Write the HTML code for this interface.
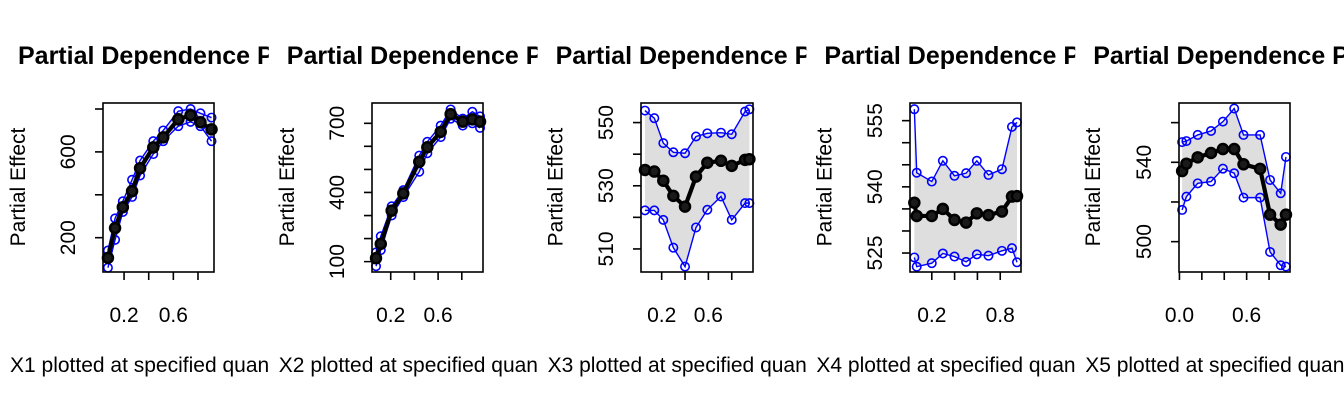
<!DOCTYPE html>
<html><head><meta charset="utf-8">
<style>
html,body{margin:0;padding:0;background:#fff;}
svg{display:block;}
text{font-family:"Liberation Sans",Arial,sans-serif;fill:#000;}
</style></head>
<body>
<svg id="chart" width="1344" height="403" viewBox="0 0 1344 403" xmlns="http://www.w3.org/2000/svg"></svg>
<script>
// ---- data ----
const panelNames = ["X1","X2","X3","X4","X5"];
const x1 = [0.069,0.127,0.19,0.265,0.33,0.437,0.518,0.64,0.74,0.82,0.91];
const fit1 = [106,245,342,417,524,621,668,752,771,738,705];
const up1 = [140,290,370,470,560,650,700,790,800,780,760];
const lo1 = [60,190,320,390,490,590,650,720,740,720,650];
const x2 = [0.076,0.116,0.208,0.306,0.441,0.509,0.622,0.706,0.808,0.889,0.954];
const fit2 = [115,177,321,396,533,596,663,740,707,717,707];
const up2 = [140,210,340,410,560,620,690,760,720,750,730];
const lo2 = [80,150,300,380,490,570,640,720,690,700,680];
const x3 = [0.057,0.137,0.214,0.3,0.4,0.494,0.591,0.708,0.8,0.914,0.951];
const fit3 = [535.0,534.5,531.6,526.8,523.4,532.9,537.3,537.9,536.3,538.2,538.4];
const up3 = [553.8,551.4,543.5,540.6,540.3,545.6,546.6,546.8,546.3,553.5,554.2];
const lo3 = [522.2,522.2,519.2,510.4,504.4,516.8,522.4,526.6,519.2,524.5,524.5];
const x4 = [0.047,0.068,0.2,0.297,0.399,0.501,0.595,0.697,0.815,0.903,0.947];
const fit4 = [536.4,533.4,533.4,535.0,532.5,531.9,534.0,533.6,534.4,537.8,537.9];
const up4 = [557.6,543.2,541.2,545.9,542.5,543.1,545.9,542.7,544.0,553.6,554.6];
const lo4 = [524.0,521.9,522.7,524.9,524.2,523.0,524.7,524.4,525.5,526.1,522.9];
const x5 = [0.024,0.062,0.163,0.282,0.388,0.489,0.572,0.72,0.809,0.904,0.951];
const fit5 = [535.6,539.3,542.5,544.7,546.7,546.7,539.0,536.7,513.6,508.6,513.6];
const up5 = [550.2,550.7,553.8,555.8,560.5,567.1,553.8,553.8,531.1,524.4,542.7];
const lo5 = [516.0,522.7,529.4,530.3,536.8,534.5,522.2,522.2,494.8,488.1,487.4];
const yTicks1 = [200,400,600,800], yLabels1 = ["200","","600",""];
const yTicks2 = [100,200,300,400,500,600,700], yLabels2 = ["100","","","400","","","700"];
const yTicks3 = [510,520,530,540,550], yLabels3 = ["510","","530","","550"];
const yTicks4 = [525,530,535,540,545,550,555], yLabels4 = ["525","","","540","","","555"];
const yTicks5 = [500,520,540,560], yLabels5 = ["500","","540",""];
const xTicks1 = [0.2,0.4,0.6,0.8], xLabels1 = ["0.2","","0.6",""];
const xTicks2 = [0.2,0.4,0.6,0.8], xLabels2 = ["0.2","","0.6",""];
const xTicks3 = [0.2,0.4,0.6,0.8], xLabels3 = ["0.2","","0.6",""];
const xTicks4 = [0.2,0.4,0.6,0.8], xLabels4 = ["0.2","","","0.8"];
const xTicks5 = [0.0,0.2,0.4,0.6,0.8], xLabels5 = ["0.0","","","0.6",""];

// ---- layout ----
const layout = [
  {left:103,right:214,xd:[0.029,0.93],yd:[40,828]},
  {left:372,right:483,xd:[0.042,0.979],yd:[55,788]},
  {left:641,right:753,xd:[0.023,0.982],yd:[502.7,556.2]},
  {left:910,right:1021,xd:[0.009,0.982],yd:[520.7,559]},
  {left:1179,right:1290,xd:[-0.004,0.987],yd:[484.7,569.9]}
];
const series = [[x1,fit1,up1,lo1],[x2,fit2,up2,lo2],[x3,fit3,up3,lo3],[x4,fit4,up4,lo4],[x5,fit5,up5,lo5]];
const yT = [[yTicks1,yLabels1],[yTicks2,yLabels2],[yTicks3,yLabels3],[yTicks4,yLabels4],[yTicks5,yLabels5]];
const xT = [[xTicks1,xLabels1],[xTicks2,xLabels2],[xTicks3,xLabels3],[xTicks4,xLabels4],[xTicks5,xLabels5]];
const TOP = 103, BOT = 272, PW = 268.8;
const NS = "http://www.w3.org/2000/svg";
const svg = document.getElementById('chart');
function mk(tag, attrs, parent){
  const e = document.createElementNS(NS, tag);
  for (const k in attrs) e.setAttribute(k, attrs[k]);
  parent.appendChild(e);
  return e;
}
const defs = mk('defs', {}, svg);
for (let i = 0; i < 5; i++) {
  const cp = mk('clipPath', {id:'clip'+i}, defs);
  mk('rect', {x:i*PW, y:0, width:PW, height:403}, cp);
  const L = layout[i];
  const sx = v => L.left + (v - L.xd[0]) / (L.xd[1] - L.xd[0]) * (L.right - L.left);
  const sy = v => BOT - (v - L.yd[0]) / (L.yd[1] - L.yd[0]) * (BOT - TOP);
  const g = mk('g', {'clip-path':'url(#clip'+i+')'}, svg);
  
  
  const [xs, fit, up, lo] = series[i];
  let pts = xs.map((x,j)=>sx(x)+','+sy(up[j]));
  for (let j = xs.length-1; j >= 0; j--) pts.push(sx(xs[j])+','+sy(lo[j]));
  const band = mk('polygon', {points:pts.join(' '), fill:'#dedede', stroke:'none'}, g);
  
  
  [[up,'upper-bound'],[lo,'lower-bound']].forEach(([arr,nm])=>{
    const pl = mk('polyline', {points:xs.map((x,j)=>sx(x)+','+sy(arr[j])).join(' '), fill:'none', stroke:'#0000ff', 'stroke-width':1.4}, g);
    
    
    xs.forEach((x,j)=>{
      const c = mk('circle', {cx:sx(x), cy:sy(arr[j]), r:4.2, fill:'none', stroke:'#0000ff', 'stroke-width':1.6}, g);
      
      
    });
  });
  const fl = mk('polyline', {points:xs.map((x,j)=>sx(x)+','+sy(fit[j])).join(' '), fill:'none', stroke:'#000', 'stroke-width':4.2}, g);
  
  
  xs.forEach((x,j)=>{
    const c = mk('circle', {cx:sx(x), cy:sy(fit[j]), r:5, fill:'#1a1a1a', stroke:'#000', 'stroke-width':2.5}, g);
    
    
  });
  const box = mk('rect', {x:L.left, y:TOP, width:L.right-L.left, height:BOT-TOP, fill:'none', stroke:'#000', 'stroke-width':1.6}, g);
  
  
  yT[i][0].forEach((v,j)=>{
    const y = sy(v);
    const t = mk('line', {x1:L.left-8, x2:L.left, y1:y, y2:y, stroke:'#000', 'stroke-width':1.6}, g);
    
    
    if (yT[i][1][j]) {
      const tx = mk('text', {x:0, y:0, 'font-size':21, 'text-anchor':'middle', transform:'translate('+(L.left-28)+','+y+') rotate(-90)'}, g);
      tx.textContent = yT[i][1][j];
      
      
    }
  });
  xT[i][0].forEach((v,j)=>{
    const x = sx(v);
    const t = mk('line', {x1:x, x2:x, y1:BOT, y2:BOT+8, stroke:'#000', 'stroke-width':1.6}, g);
    
    
    if (xT[i][1][j]) {
      const tx = mk('text', {x:x, y:322, 'font-size':21, 'text-anchor':'middle'}, g);
      tx.textContent = xT[i][1][j];
      
      
    }
  });
  const ti = mk('text', {x:18 + i*PW, y:64, 'font-size':25, 'font-weight':'bold'}, g);
  ti.textContent = 'Partial Dependence Plot';
  
  
  const xl = mk('text', {x:10 + i*PW, y:372, 'font-size':21}, g);
  xl.textContent = panelNames[i] + ' plotted at specified quantiles';
  
  
  const yl = mk('text', {x:0, y:0, 'font-size':21, 'text-anchor':'middle', transform:'translate('+(25 + i*PW)+',187) rotate(-90)'}, g);
  yl.textContent = 'Partial Effect';
  
  
}
</script>
</body></html>
